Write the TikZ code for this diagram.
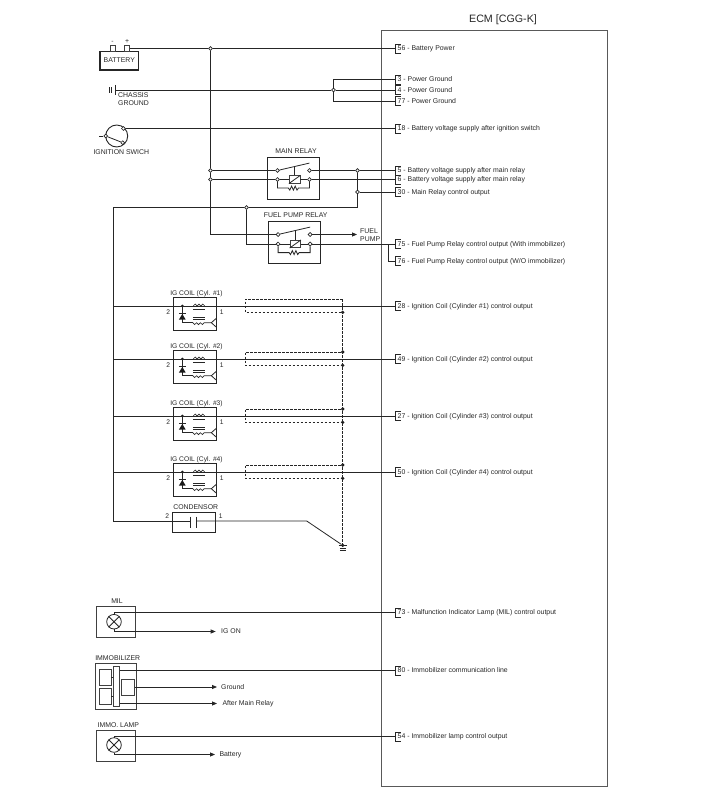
\documentclass[tikz,border=0pt]{standalone}
\usepackage{fontspec}
\setmainfont{Liberation Sans}
\usetikzlibrary{arrows.meta}

\tikzset{
  wire/.style = {line width=0.8pt, draw=black!85},
  flow/.style = {wire, -{Triangle[length=5pt,width=4pt]}},
  shielded/.style = {wire, dash pattern=on 2.6pt off 1.4pt},
  devbox/.style = {draw=black!85, line width=1.1pt, inner sep=0pt},
  lampbox/.style = {draw=black!75, line width=0.8pt, inner sep=0pt},
  innerbox/.style = {draw=black!75, line width=0.7pt, inner sep=0pt},
  txt/.style = {font=\fontsize{6.9}{8.2}\selectfont, text=black!85, inner sep=0pt},
  coiltxt/.style = {txt, font=\fontsize{6.7}{8}\selectfont},
  pinlabel/.style = {txt, anchor=west, text height=4.8pt, text depth=0pt},
  contact/.style = {circle, draw=black!85, fill=white, line width=0.7pt, inner sep=0pt, minimum size=3.8pt},
  blob/.style = {circle, fill=black!90, inner sep=0pt, minimum size=3.6pt},
  nodot/.style = {coordinate},
  lamp/.style = {circle, draw=black!85, line width=0.8pt, inner sep=0pt, minimum size=14.6pt},
}

% pin on the ECM: bracket and text
\newcommand{\ecmpin}[3]{
  \coordinate (w#1) at (395,#2);
  \node[pinlabel] (p#1) at (397.5,#2) {#3};
  \draw[wire, line width=0.7pt] (400.5,#2-4.6) -- (395,#2-4.6) -- (395,#2+4.6) -- (400.5,#2+4.6);
}

% relay: name, left of box, y of upper contacts, y of lower contacts
\newcommand{\ecmrelay}[4]{
  \node[devbox, minimum width=52pt, minimum height=42.4pt] (#1) at (#2+26,#3+8.2) {};
  \node[contact] (#1a) at (#2+9.6,#3) {};
  \node[contact] (#1b) at (#2+41.6,#3) {};
  \node[contact] (#1c) at (#2+9.6,#4) {};
  \node[contact] (#1d) at (#2+41.6,#4) {};
  \node[innerbox, minimum width=10.6pt, minimum height=7.4pt] (#1k) at (#2+26.8,#4) {};
  \draw[wire] (#1a) -- (#2+41.6,#3-7.4);
  \draw[wire] (#2+26.8,#3-3.7) -- (#1k.north);
  \draw[wire] (#1k.south west) -- (#1k.north east);
  \draw[wire] (#1c) -- (#1k);
  \draw[wire] (#1k) -- (#1d);
  \draw[wire] (#1c) -- (#2+9.6,#4+8.6) -- (#2+20.6,#4+8.6) -- ++(1.4,2) -- ++(1.8,-4) -- ++(1.8,4) -- ++(1.8,-4) -- ++(1.8,4) -- ++(1.4,-2) -- (#2+41.6,#4+8.6) -- (#1d);
}

% insides of an ignition coil, origin at left of box on the wire
\newcommand{\ecmcoil}{
  \fill[black!90] (9,0) circle (1.5pt);
  \draw[wire] (9,0) -- (9,16.7) -- (19.5,16.7);
  \draw[wire] (5.5,7.7) -- (12.5,7.7);
  \fill[black!90] (9,8) -- (5.6,13.6) -- (12.4,13.6) -- cycle;
  \draw[wire, line width=0.6pt] (20,0) arc (180:0:1.9pt) arc (180:0:1.9pt) arc (180:0:1.9pt);
  \draw[wire, line width=0.5pt] (19.5,3) -- (32,3);
  \draw[wire, line width=0.5pt] (19.5,11.2) -- (32,11.2);
  \draw[wire, line width=0.5pt] (19.5,13) -- (32,13);
  \draw[wire, line width=0.6pt] (19.5,16.7) arc (180:360:1.9pt) arc (180:360:1.9pt) arc (180:360:1.9pt) -- (38,16.7);
  \draw[wire] (43.4,12) -- (38,16.7) -- (43.4,21.5);
}

\begin{document}
\begin{tikzpicture}[x=1pt, y=-1pt]
  \useasboundingbox (0,0) rectangle (701,810);

  % ECM
  \node[draw=black!65, line width=0.8pt, inner sep=0pt, minimum width=225.5pt, minimum height=755.5pt] (ecm) at (494.2,408.5) {};
  \node[font=\fontsize{10.7}{12}\selectfont, text=black!85, inner sep=0pt] (ecmtitle) at (503,20) {ECM [CGG-K]};

  \ecmpin{56}{48.5}{56 - Battery Power}
  \ecmpin{3}{79.5}{3 - Power Ground}
  \ecmpin{4}{90}{4 - Power Ground}
  \ecmpin{77}{101}{77 - Power Ground}
  \ecmpin{18}{128.5}{18 - Battery voltage supply after ignition switch}
  \ecmpin{5}{170.5}{5 - Battery voltage supply after main relay}
  \ecmpin{6}{179.5}{6 - Battery voltage supply after main relay}
  \ecmpin{30}{192}{30 - Main Relay control output}
  \ecmpin{75}{244}{75 - Fuel Pump Relay control output (With immobilizer)}
  \ecmpin{76}{261}{76 - Fuel Pump Relay control output (W/O immobilizer)}
  \ecmpin{73}{612.5}{73 - Malfunction Indicator Lamp (MIL) control output}
  \ecmpin{80}{670.5}{80 - Immobilizer communication line}
  \ecmpin{54}{736.5}{54 - Immobilizer lamp control output}

  % battery
  \node[devbox, minimum width=38.6pt, minimum height=18.4pt] (bat) at (119.3,60.8) {};
  \node[txt] (battxt) at (119.3,60.5) {BATTERY};
  \node[innerbox, minimum width=5pt, minimum height=6pt] (batneg) at (112.4,48.7) {};
  \node[innerbox, minimum width=5pt, minimum height=6pt] (batpos) at (127.2,48.7) {};
  \node[txt] (negtxt) at (112.4,42.5) {-};
  \node[txt] (postxt) at (127.2,41.5) {+};
  \node[contact] (jbat) at (210.5,48.5) {};
  \draw[wire] (batpos.east |- jbat) -- (jbat);
  \draw[wire] (jbat) -- (w56);

  % chassis ground
  \coordinate (gnda) at (115,90);
  \node[contact] (jgnd) at (333.5,90) {};
  \draw[wire] (gnda) -- (jgnd);
  \draw[wire] (jgnd) -- (w4);
  \draw[wire] (jgnd) |- (w3);
  \draw[wire] (jgnd) |- (w77);
  \draw[wire] (115,85) -- (115,95);
  \draw[wire] (109.5,87.3) -- (109.5,92.7);
  \draw[wire] (111.8,87.3) -- (111.8,92.7);
  \node[txt, align=left, anchor=north west] (chassis) at (118,92.4) {CHASSIS\\GROUND};

  % ignition switch
  \node[circle, draw=black!85, line width=0.9pt, inner sep=0pt, minimum size=22pt] (ign) at (116.7,136) {};
  \node[contact] (igna) at (123.4,128.5) {};
  \node[contact] (ignb) at (122.7,142.7) {};
  \node[contact] (ignc) at (105.7,136) {};
  \draw[wire] (99.3,136) -- (ignc);
  \draw[wire] (ignc) -- (ignb);
  \draw[wire] (igna) -- (w18);
  \node[txt] (igntxt) at (121.3,152.5) {IGNITION SWICH};

  % main relay
  \ecmrelay{mrly}{267.8}{170.5}{179.5}
  \node[txt] (mrlytxt) at (296,151) {MAIN RELAY};
  \node[contact] (jmaina) at (210.5,170.5) {};
  \node[contact] (jmainb) at (210.5,179.5) {};
  \node[contact] (jouta) at (357.5,170.5) {};
  \node[contact] (joutb) at (357.5,192) {};
  \coordinate (cornr) at (357.5,207.5);
  \node[contact] (jfuel) at (246.5,207.5) {};
  \coordinate (cornl) at (113,207.5);
  \draw[wire] (jbat) -- (jmaina);
  \draw[wire] (jmaina) -- (jmainb);
  \draw[wire] (jmaina) -- (mrlya);
  \draw[wire] (jmainb) -- (mrlyc);
  \draw[wire] (mrlyb) -- (jouta);
  \draw[wire] (jouta) -- (w5);
  \draw[wire] (mrlyd) -- (w6);
  \draw[wire] (jouta) -- (joutb);
  \draw[wire] (joutb) -- (w30);
  \draw[wire] (joutb) -- (cornr) -- (jfuel);
  \draw[wire] (jfuel) -- (cornl);

  % fuel pump relay
  \ecmrelay{frly}{268.5}{234.5}{244}
  \node[txt] (frlytxt) at (295.7,215.3) {FUEL PUMP RELAY};
  \coordinate (pumpend) at (357,234.5);
  \coordinate (jsplit) at (388,244);
  \draw[wire] (jmainb) |- (frlya);
  \draw[wire] (jfuel) |- (frlyc);
  \draw[flow] (frlyb) -- (pumpend);
  \draw[wire] (frlyd) -- (w75);
  \draw[wire] (jsplit) |- (w76);
  \node[txt, align=left, anchor=west] (pumptxt) at (360,235) {FUEL\\PUMP};

  % ignition coils
  \ecmpin{28}{306}{28 - Ignition Coil (Cylinder \#1) control output}
  \ecmpin{49}{359}{49 - Ignition Coil (Cylinder \#2) control output}
  \ecmpin{27}{416}{27 - Ignition Coil (Cylinder \#3) control output}
  \ecmpin{50}{472}{50 - Ignition Coil (Cylinder \#4) control output}
  \coordinate (busend) at (113,521);
  \draw[wire] (cornl) -- (busend);
  \foreach \cn/\cy/\pn/\tp in {1/306/28/nodot, 2/359/49/blob, 3/416/27/blob, 4/472/50/blob} {
    \node[devbox, minimum width=43.4pt, minimum height=33pt] (coil\cn) at (195,\cy+8) {};
    \node[coiltxt] (coil\cn txt) at (196.5,\cy-12.4) {IG COIL (Cyl. \#\cn)};
    \node[coiltxt] (coil\cn l) at (168.3,\cy+6.5) {2};
    \node[coiltxt] (coil\cn r) at (221.7,\cy+6.5) {1};
    \begin{scope}[shift={(173.3,\cy)}]
      \ecmcoil
    \end{scope}
    \coordinate (bus\cn) at (113,\cy);
    \draw[wire] (bus\cn) -- (w\pn);
    \coordinate (dc\cn) at (245.3,\cy-7);
    \coordinate (de\cn) at (245.3,\cy+6.3);
    \node[\tp] (dt\cn) at (342.7,\cy-7) {};
    \node[blob] (db\cn) at (342.7,\cy+6.3) {};
    \draw[shielded] (dt\cn) -- (dc\cn) -- (de\cn) -- (db\cn);
  }

  % condenser and ground
  \node[devbox, minimum width=42.6pt, minimum height=20pt] (cond) at (194,522.3) {};
  \node[txt] (condtxt) at (195.7,507) {CONDENSOR};
  \node[coiltxt] (condl) at (167.3,515.7) {2};
  \node[coiltxt] (condr) at (220.7,515.7) {1};
  \coordinate (platea) at (190,521);
  \coordinate (plateb) at (196.7,521);
  \coordinate (kink) at (306.7,521);
  \node[blob] (gndpt) at (342.7,545.3) {};
  \draw[wire] (busend) -- (platea);
  \draw[wire] (plateb) -- (kink) -- (gndpt);
  \draw[wire] (190,516.5) -- (190,528.3);
  \draw[wire] (196.7,516.5) -- (196.7,528.3);
  \draw[shielded] (dt1) -- (gndpt);
  \draw[wire] (338.5,545.3) -- (347,545.3);
  \draw[wire] (339.8,548.4) -- (345.6,548.4);
  \draw[wire] (339.8,550.8) -- (345.6,550.8);

  % MIL
  \node[lampbox, minimum width=38.7pt, minimum height=30.7pt] (milbox) at (115.7,622) {};
  \node[txt] (miltxt) at (117,601) {MIL};
  \node[lamp] (millamp) at (114,621.7) {};
  \draw[wire] (millamp.north east) -- (millamp.south west);
  \draw[wire] (millamp.north west) -- (millamp.south east);
  \coordinate (milend) at (215.7,631.5);
  \draw[wire] (millamp.north) |- (w73);
  \draw[flow] (millamp.south) |- (milend);
  \node[txt, anchor=west] (igon) at (221,631.5) {IG ON};

  % immobilizer
  \node[lampbox, minimum width=41.4pt, minimum height=45.6pt] (immbox) at (116,686.5) {};
  \node[txt] (immtxt) at (117.7,658) {IMMOBILIZER};
  \node[innerbox, minimum width=12pt, minimum height=15.7pt] (immul) at (105,677.2) {};
  \node[innerbox, minimum width=12pt, minimum height=15.3pt] (immll) at (105,696.4) {};
  \node[innerbox, minimum width=6.4pt, minimum height=40pt] (immbar) at (116.5,686.3) {};
  \node[innerbox, minimum width=12.6pt, minimum height=16pt] (immr) at (128,687) {};
  \draw[wire] (immul.east) -- (immbar.west |- immul.east);
  \draw[wire] (immll.east) -- (immbar.west |- immll.east);
  \coordinate (immgnd) at (217,687);
  \coordinate (immrly) at (217,703.5);
  \draw[wire] (immbar.east |- w80) -- (w80);
  \draw[flow] (immr.east) -- (immgnd);
  \draw[flow] (immbar.east |- immrly) -- (immrly);
  \node[txt, anchor=west] (gndtxt) at (221,687) {Ground};
  \node[txt, anchor=west] (rlytxt) at (222.3,703.5) {After Main Relay};

  % immobilizer lamp
  \node[lampbox, minimum width=38.7pt, minimum height=31.4pt] (lmpbox) at (115.7,746) {};
  \node[txt] (lmptxt) at (118.3,724.7) {IMMO. LAMP};
  \node[lamp] (lmplamp) at (114,745) {};
  \draw[wire] (lmplamp.north east) -- (lmplamp.south west);
  \draw[wire] (lmplamp.north west) -- (lmplamp.south east);
  \coordinate (lmpend) at (215,754.5);
  \draw[wire] (lmplamp.north) |- (w54);
  \draw[flow] (lmplamp.south) |- (lmpend);
  \node[txt, anchor=west] (battery) at (219.3,754.5) {Battery};
\end{tikzpicture}
\end{document}
